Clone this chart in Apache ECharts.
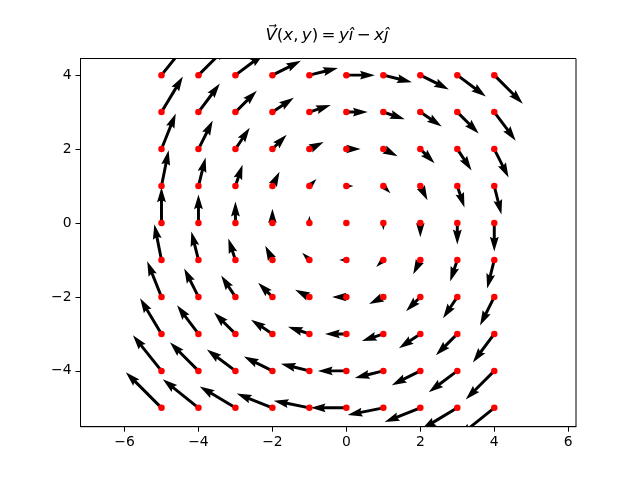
<!DOCTYPE html>
<html>
<head>
<meta charset="utf-8">
<script src="https://cdn.jsdelivr.net/npm/echarts@6/dist/echarts.min.js"></script>
<style>html,body{margin:0;padding:0;background:#fff}#c{width:640px;height:480px}</style>
</head>
<body>
<div id="c"></div>
<script>
// Grid positions of the vectors
const xGrid = [-5, -4, -3, -2, -1, 0, 1, 2, 3, 4];
const yGrid = [-5, -4, -3, -2, -1, 0, 1, 2, 3, 4];
// U component (rows follow yGrid, columns follow xGrid)
const U = [
  [-5, -5, -5, -5, -5, -5, -5, -5, -5, -5],
  [-4, -4, -4, -4, -4, -4, -4, -4, -4, -4],
  [-3, -3, -3, -3, -3, -3, -3, -3, -3, -3],
  [-2, -2, -2, -2, -2, -2, -2, -2, -2, -2],
  [-1, -1, -1, -1, -1, -1, -1, -1, -1, -1],
  [0, 0, 0, 0, 0, 0, 0, 0, 0, 0],
  [1, 1, 1, 1, 1, 1, 1, 1, 1, 1],
  [2, 2, 2, 2, 2, 2, 2, 2, 2, 2],
  [3, 3, 3, 3, 3, 3, 3, 3, 3, 3],
  [4, 4, 4, 4, 4, 4, 4, 4, 4, 4]
];
// V component (rows follow yGrid, columns follow xGrid)
const V = [
  [5, 4, 3, 2, 1, 0, -1, -2, -3, -4],
  [5, 4, 3, 2, 1, 0, -1, -2, -3, -4],
  [5, 4, 3, 2, 1, 0, -1, -2, -3, -4],
  [5, 4, 3, 2, 1, 0, -1, -2, -3, -4],
  [5, 4, 3, 2, 1, 0, -1, -2, -3, -4],
  [5, 4, 3, 2, 1, 0, -1, -2, -3, -4],
  [5, 4, 3, 2, 1, 0, -1, -2, -3, -4],
  [5, 4, 3, 2, 1, 0, -1, -2, -3, -4],
  [5, 4, 3, 2, 1, 0, -1, -2, -3, -4],
  [5, 4, 3, 2, 1, 0, -1, -2, -3, -4]
];
const xTicks = [-6, -4, -2, 0, 2, 4, 6];
const yTicks = [-4, -2, 0, 2, 4];

const vecData = [];
const dotData = [];
yGrid.forEach((y, i) => {
  xGrid.forEach((x, j) => {
    vecData.push([x, y, U[i][j], V[i][j]]);
    dotData.push([x, y]);
  });
});

// quiver styling (matplotlib defaults)
const ARROW_SCALE = 0.193;  // data-x units per vector unit
const SHAFT_W = 2.97;       // px
const HL = 5, HAL = 4.5, HW = 3;
const MINSH = HL;

function renderArrow(params, api) {
  const x = api.value(0), y = api.value(1), u = api.value(2), v = api.value(3);
  const p0 = api.coord([x, y]);
  const unitPx = api.size([1, 0])[0];
  const k = ARROW_SCALE * unitPx;
  const dx = u * k, dy = -v * k;
  const Lpx = Math.hypot(dx, dy);
  if (Lpx < 1e-6) return null;
  const L = Lpx / SHAFT_W;
  let pts;
  if (L < MINSH) {
    const s = L / MINSH;
    pts = [[0, 0.5], [MINSH - HAL, 0.5], [MINSH - HL, HW / 2], [MINSH, 0], [MINSH - HL, -HW / 2], [MINSH - HAL, -0.5], [0, -0.5]]
      .map(p => [p[0] * s, p[1] * s]);
  } else {
    pts = [[0, 0.5], [L - HAL, 0.5], [L - HL, HW / 2], [L, 0], [L - HL, -HW / 2], [L - HAL, -0.5], [0, -0.5]];
  }
  const c = dx / Lpx, sn = dy / Lpx;
  const points = pts.map(p => [
    p0[0] + (p[0] * c - p[1] * sn) * SHAFT_W,
    p0[1] + (p[0] * sn + p[1] * c) * SHAFT_W
  ]);
  const cs = params.coordSys;
  return {
    type: 'polygon',
    shape: { points },
    style: { fill: '#000000', stroke: null },
    clipPath: { type: 'rect', shape: { x: cs.x, y: cs.y, width: cs.width, height: cs.height } }
  };
}

const fmt = v => String(v).replace('-', '\u2212');
const FONT = 'DejaVu Sans';
const TS = '\u2009';

const chart = echarts.init(document.getElementById('c'), null, { renderer: 'canvas' });
chart.setOption({
  animation: false,
  backgroundColor: '#ffffff',
  title: {
    text: '{it|V\u20D7}{rm|(}{it|x}{rm|,' + TS + '}{it|y}{rm|)' + TS + '=' + TS + '}{it|y\u00EE}{rm|' + TS + '\u2212' + TS + '}{it|x\u0135}',
    left: 327,
    textAlign: 'center',
    top: 27,
    padding: 0,
    textStyle: {
      fontFamily: FONT, fontSize: 16.7, fontWeight: 'normal', color: '#000',
      rich: {
        it: { fontFamily: FONT, fontSize: 16.7, fontStyle: 'italic', color: '#000' },
        rm: { fontFamily: FONT, fontSize: 16.7, color: '#000' }
      }
    }
  },
  grid: {
    left: 80.5, right: 64, top: 58.5, bottom: 53.3,
    show: true, borderColor: '#000', borderWidth: 1, backgroundColor: 'transparent'
  },
  xAxis: {
    type: 'value', min: -7.19, max: 6.21,
    axisLine: { show: true, onZero: false, lineStyle: { color: '#000', width: 1 } },
    axisTick: { show: true, inside: false, length: 5, customValues: xTicks, lineStyle: { color: '#000' } },
    axisLabel: { show: true, customValues: xTicks, formatter: fmt, color: '#000', fontFamily: FONT, fontSize: 13.9, margin: 9 },
    splitLine: { show: false }
  },
  yAxis: {
    type: 'value', min: -5.51, max: 4.45,
    axisLine: { show: true, onZero: false, lineStyle: { color: '#000', width: 1 } },
    axisTick: { show: true, inside: false, length: 5, customValues: yTicks, lineStyle: { color: '#000' } },
    axisLabel: { show: true, customValues: yTicks, formatter: fmt, color: '#000', fontFamily: FONT, fontSize: 13.9, margin: 9 },
    splitLine: { show: false }
  },
  series: [
    {
      type: 'custom',
      renderItem: renderArrow,
      data: vecData,
      encode: { x: 0, y: 1 },
      clip: true,
      z: 2
    },
    {
      type: 'scatter',
      data: dotData,
      symbol: 'circle',
      symbolSize: 6.5,
      itemStyle: { color: '#ff0000', opacity: 1 },
      z: 3
    }
  ]
});
</script>
</body>
</html>
